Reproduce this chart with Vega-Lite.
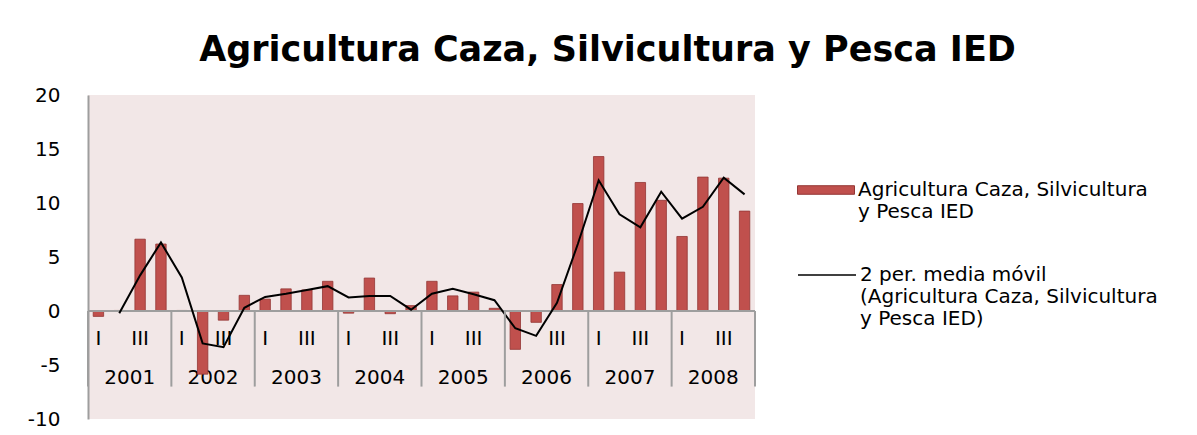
{
  "$schema": "https://vega.github.io/schema/vega-lite/v6.json",
  "autosize": {"type": "none"},
  "padding": {"left": 88, "top": 95, "right": 442, "bottom": 16},
  "width": 667,
  "height": 324,
  "background": "#ffffff",
  "title": {
    "text": "Agricultura Caza, Silvicultura y Pesca IED",
    "font": "DejaVu Sans",
    "fontSize": 35,
    "fontWeight": "bold",
    "color": "#000000",
    "anchor": "middle",
    "frame": "group",
    "dx": 186,
    "dy": 44,
    "baseline": "alphabetic",
    "offset": 33
  },
  "config": {
    "view": {"fill": "#F2E7E7", "stroke": null},
    "font": "DejaVu Sans",
    "axis": {"labelFont": "DejaVu Sans", "labelFontSize": 20, "labelColor": "#000000", "grid": false, "title": null},
    "legend": {"labelFont": "DejaVu Sans", "labelFontSize": 20, "labelColor": "#000000", "padding": 0, "labelLimit": 600, "title": null}
  },
  "datasets": {
    "quarters": [
      {"q": "2001-I", "year": "2001", "value": -0.5, "ma": null},
      {"q": "2001-II", "year": "2001", "value": 0.05, "ma": -0.2},
      {"q": "2001-III", "year": "2001", "value": 6.65, "ma": 3.3},
      {"q": "2001-IV", "year": "2001", "value": 6.2, "ma": 6.35},
      {"q": "2002-I", "year": "2002", "value": 0.05, "ma": 3.1},
      {"q": "2002-II", "year": "2002", "value": -5.85, "ma": -3.0},
      {"q": "2002-III", "year": "2002", "value": -0.85, "ma": -3.35},
      {"q": "2002-IV", "year": "2002", "value": 1.45, "ma": 0.3},
      {"q": "2003-I", "year": "2003", "value": 1.1, "ma": 1.3},
      {"q": "2003-II", "year": "2003", "value": 2.05, "ma": 1.6},
      {"q": "2003-III", "year": "2003", "value": 1.95, "ma": 1.95},
      {"q": "2003-IV", "year": "2003", "value": 2.75, "ma": 2.3},
      {"q": "2004-I", "year": "2004", "value": -0.2, "ma": 1.25},
      {"q": "2004-II", "year": "2004", "value": 3.05, "ma": 1.4},
      {"q": "2004-III", "year": "2004", "value": -0.25, "ma": 1.4},
      {"q": "2004-IV", "year": "2004", "value": 0.5, "ma": 0.12},
      {"q": "2005-I", "year": "2005", "value": 2.75, "ma": 1.6},
      {"q": "2005-II", "year": "2005", "value": 1.4, "ma": 2.05},
      {"q": "2005-III", "year": "2005", "value": 1.75, "ma": 1.55},
      {"q": "2005-IV", "year": "2005", "value": 0.25, "ma": 1.0},
      {"q": "2006-I", "year": "2006", "value": -3.55, "ma": -1.6},
      {"q": "2006-II", "year": "2006", "value": -1.05, "ma": -2.3},
      {"q": "2006-III", "year": "2006", "value": 2.45, "ma": 0.75},
      {"q": "2006-IV", "year": "2006", "value": 9.95, "ma": 6.2},
      {"q": "2007-I", "year": "2007", "value": 14.3, "ma": 12.1},
      {"q": "2007-II", "year": "2007", "value": 3.6, "ma": 8.95},
      {"q": "2007-III", "year": "2007", "value": 11.9, "ma": 7.75},
      {"q": "2007-IV", "year": "2007", "value": 10.25, "ma": 11.05},
      {"q": "2008-I", "year": "2008", "value": 6.9, "ma": 8.55},
      {"q": "2008-II", "year": "2008", "value": 12.4, "ma": 9.65},
      {"q": "2008-III", "year": "2008", "value": 12.3, "ma": 12.35},
      {"q": "2008-IV", "year": "2008", "value": 9.25, "ma": 10.8}
    ],
    "years": [
      {"year": "2001"}, {"year": "2002"}, {"year": "2003"}, {"year": "2004"},
      {"year": "2005"}, {"year": "2006"}, {"year": "2007"}, {"year": "2008"}
    ]
  },
  "resolve": {"scale": {"x": "independent"}, "axis": {"x": "independent"}},
  "layer": [
    {
      "data": {"name": "quarters"},
      "layer": [
        {
          "mark": {"type": "bar", "stroke": "#943634", "strokeWidth": 1, "strokeOpacity": 0.8},
          "encoding": {
            "x": {
              "field": "q", "type": "ordinal", "sort": null,
              "scale": {"paddingInner": 0.5, "paddingOuter": 0.25},
              "axis": {
                "orient": "bottom", "offset": -108, "domain": false, "ticks": false, "tickSize": 0,
                "labelPadding": 27, "labelBaseline": "middle", "labelAngle": 0, "labelOverlap": false,
                "labelExpr": "indexof(datum.value, '-III') > 0 ? 'III' : (indexof(datum.value, '-IV') > 0 || indexof(datum.value, '-II') > 0 ? '' : 'I')"
              }
            },
            "y": {
              "field": "value", "type": "quantitative",
              "scale": {"domain": [-10, 20], "nice": false, "zero": false},
              "axis": {
                "values": [-10, -5, 0, 5, 10, 15, 20], "ticks": false, "tickSize": 0,
                "domainColor": "#9E9E9E", "domainWidth": 2, "labelPadding": 28, "labelAlign": "right",
                "labelExpr": "toString(datum.value)"
              }
            },
            "fill": {
              "datum": "Agricultura Caza, Silvicultura y Pesca IED",
              "scale": {"range": ["#C0504D"]},
              "legend": {
                "orient": "none", "legendX": 709, "legendY": 66,
                "symbolType": "M-1,-0.15L1,-0.15L1,0.15L-1,0.15Z", "symbolSize": 3249,
                "symbolStrokeColor": "#943634", "symbolStrokeWidth": 1, "symbolFillColor": "#C0504D",
                "labelOffset": 3, "labelBaseline": "middle",
                "labelExpr": "['Agricultura Caza, Silvicultura', 'y Pesca IED']"
              }
            }
          }
        },
        {
          "mark": {"type": "rule", "color": "#9E9E9E", "strokeWidth": 2},
          "encoding": {"y": {"datum": 0, "type": "quantitative"}}
        },
        {
          "mark": {"type": "line", "strokeWidth": 2},
          "encoding": {
            "x": {"field": "q", "type": "ordinal", "sort": null, "bandPosition": 0.5},
            "y": {"field": "ma", "type": "quantitative"},
            "stroke": {
              "datum": "2 per. media móvil (Agricultura Caza, Silvicultura y Pesca IED)",
              "scale": {"range": ["#000000"]},
              "legend": {
                "orient": "none", "legendX": 709, "legendY": 150,
                "symbolType": "stroke", "symbolSize": 3364, "symbolStrokeWidth": 1.5,
                "labelOffset": 3, "labelBaseline": "middle",
                "labelExpr": "['2 per. media móvil', '(Agricultura Caza, Silvicultura', 'y Pesca IED)']"
              }
            }
          }
        }
      ]
    },
    {
      "data": {"name": "years"},
      "layer": [
        {
          "mark": {"type": "rule", "color": "#9E9E9E", "strokeWidth": 2},
          "encoding": {
            "x": {
              "field": "year", "type": "ordinal", "bandPosition": 0,
              "scale": {"paddingInner": 0, "paddingOuter": 0},
              "axis": {
                "orient": "bottom", "offset": -108, "domain": false, "ticks": false, "tickSize": 0,
                "labelPadding": 66, "labelBaseline": "middle", "labelAngle": 0
              }
            },
            "y": {"datum": 0, "type": "quantitative"},
            "y2": {"datum": -7}
          }
        },
        {
          "transform": [{"filter": "datum.year == '2008'"}],
          "mark": {"type": "rule", "color": "#9E9E9E", "strokeWidth": 2},
          "encoding": {
            "x": {"field": "year", "type": "ordinal", "bandPosition": 1},
            "y": {"datum": 0, "type": "quantitative"},
            "y2": {"datum": -7}
          }
        }
      ]
    }
  ]
}
